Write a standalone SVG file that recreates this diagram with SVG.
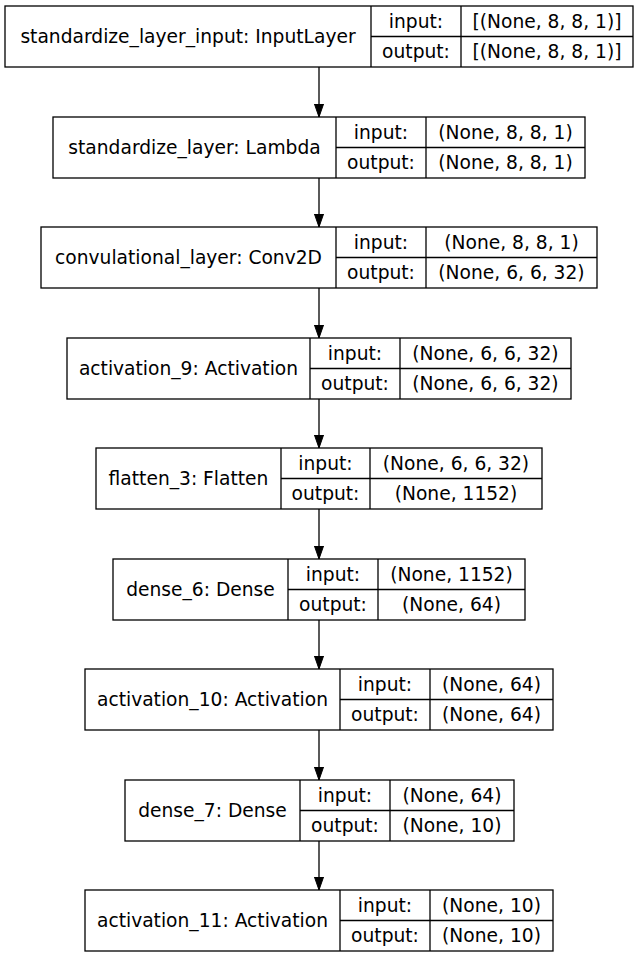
<svg xmlns="http://www.w3.org/2000/svg" width="639" height="959" viewBox="0 0 639 959">
<style>
  .box { fill: #ffffff; stroke: #000000; stroke-width: 1.3; }
  .ln { stroke: #000000; stroke-width: 1.3; fill: none; }
  text { font-family: "DejaVu Sans", "Noto Sans", sans-serif; font-size: 18.67px; fill: #000000; text-anchor: middle; }
  .edge { stroke: #000000; stroke-width: 1.3; fill: none; }
</style>
<defs>
  <marker id="arrow" markerUnits="userSpaceOnUse" markerWidth="14" markerHeight="10" refX="13.3" refY="4.67" orient="auto" viewBox="0 0 14 9.34">
    <path d="M0,0 L13.3,4.67 L0,9.34 Z" fill="#000000" stroke="#000000" stroke-width="1"/>
  </marker>
</defs>
<rect x="0" y="0" width="639" height="959" fill="#ffffff"/>

<g id="connectors">
  <line class="edge" x1="319" y1="67" x2="319" y2="117" marker-end="url(#arrow)"/>
  <line class="edge" x1="319" y1="178" x2="319" y2="227" marker-end="url(#arrow)"/>
  <line class="edge" x1="319" y1="288" x2="319" y2="338" marker-end="url(#arrow)"/>
  <line class="edge" x1="319" y1="399" x2="319" y2="448" marker-end="url(#arrow)"/>
  <line class="edge" x1="319" y1="509" x2="319" y2="559" marker-end="url(#arrow)"/>
  <line class="edge" x1="319" y1="620" x2="319" y2="669" marker-end="url(#arrow)"/>
  <line class="edge" x1="319" y1="730" x2="319" y2="780" marker-end="url(#arrow)"/>
  <line class="edge" x1="319" y1="841" x2="319" y2="890" marker-end="url(#arrow)"/>
</g>

<g id="node1">
  <rect class="box" x="5" y="6" width="628" height="61"/>
  <line class="ln" x1="371" y1="6" x2="371" y2="67"/>
  <line class="ln" x1="461" y1="6" x2="461" y2="67"/>
  <line class="ln" x1="371" y1="36.5" x2="633" y2="36.5"/>
  <text x="188" y="43">standardize_layer_input: InputLayer</text>
  <text x="416" y="27.7">input:</text>
  <text x="416" y="58.2">output:</text>
  <text x="547" y="27.7">[(None, 8, 8, 1)]</text>
  <text x="547" y="58.2">[(None, 8, 8, 1)]</text>
</g>

<g id="node2">
  <rect class="box" x="53" y="117" width="532" height="61"/>
  <line class="ln" x1="336" y1="117" x2="336" y2="178"/>
  <line class="ln" x1="426" y1="117" x2="426" y2="178"/>
  <line class="ln" x1="336" y1="147.5" x2="585" y2="147.5"/>
  <text x="194.5" y="154">standardize_layer: Lambda</text>
  <text x="381" y="138.7">input:</text>
  <text x="381" y="169.2">output:</text>
  <text x="505.5" y="138.7">(None, 8, 8, 1)</text>
  <text x="505.5" y="169.2">(None, 8, 8, 1)</text>
</g>

<g id="node3">
  <rect class="box" x="41" y="227" width="556" height="61"/>
  <line class="ln" x1="336" y1="227" x2="336" y2="288"/>
  <line class="ln" x1="426" y1="227" x2="426" y2="288"/>
  <line class="ln" x1="336" y1="257.5" x2="597" y2="257.5"/>
  <text x="188.5" y="264">convulational_layer: Conv2D</text>
  <text x="381" y="248.7">input:</text>
  <text x="381" y="279.2">output:</text>
  <text x="511.5" y="248.7">(None, 8, 8, 1)</text>
  <text x="511.5" y="279.2">(None, 6, 6, 32)</text>
</g>

<g id="node4">
  <rect class="box" x="67" y="338" width="504" height="61"/>
  <line class="ln" x1="310" y1="338" x2="310" y2="399"/>
  <line class="ln" x1="400" y1="338" x2="400" y2="399"/>
  <line class="ln" x1="310" y1="368.5" x2="571" y2="368.5"/>
  <text x="188.5" y="375">activation_9: Activation</text>
  <text x="355" y="359.7">input:</text>
  <text x="355" y="390.2">output:</text>
  <text x="485.5" y="359.7">(None, 6, 6, 32)</text>
  <text x="485.5" y="390.2">(None, 6, 6, 32)</text>
</g>

<g id="node5">
  <rect class="box" x="96" y="448" width="446" height="61"/>
  <line class="ln" x1="281" y1="448" x2="281" y2="509"/>
  <line class="ln" x1="370" y1="448" x2="370" y2="509"/>
  <line class="ln" x1="281" y1="478.5" x2="542" y2="478.5"/>
  <text x="188.5" y="485">flatten_3: Flatten</text>
  <text x="325.5" y="469.7">input:</text>
  <text x="325.5" y="500.2">output:</text>
  <text x="456" y="469.7">(None, 6, 6, 32)</text>
  <text x="456" y="500.2">(None, 1152)</text>
</g>

<g id="node6">
  <rect class="box" x="113" y="559" width="412" height="61"/>
  <line class="ln" x1="288" y1="559" x2="288" y2="620"/>
  <line class="ln" x1="378" y1="559" x2="378" y2="620"/>
  <line class="ln" x1="288" y1="589.5" x2="525" y2="589.5"/>
  <text x="200.5" y="596">dense_6: Dense</text>
  <text x="333" y="580.7">input:</text>
  <text x="333" y="611.2">output:</text>
  <text x="451.5" y="580.7">(None, 1152)</text>
  <text x="451.5" y="611.2">(None, 64)</text>
</g>

<g id="node7">
  <rect class="box" x="85" y="669" width="468" height="61"/>
  <line class="ln" x1="340" y1="669" x2="340" y2="730"/>
  <line class="ln" x1="430" y1="669" x2="430" y2="730"/>
  <line class="ln" x1="340" y1="699.5" x2="553" y2="699.5"/>
  <text x="212.5" y="706">activation_10: Activation</text>
  <text x="385" y="690.7">input:</text>
  <text x="385" y="721.2">output:</text>
  <text x="491.5" y="690.7">(None, 64)</text>
  <text x="491.5" y="721.2">(None, 64)</text>
</g>

<g id="node8">
  <rect class="box" x="125" y="780" width="389" height="61"/>
  <line class="ln" x1="300" y1="780" x2="300" y2="841"/>
  <line class="ln" x1="390" y1="780" x2="390" y2="841"/>
  <line class="ln" x1="300" y1="810.5" x2="514" y2="810.5"/>
  <text x="212.5" y="817">dense_7: Dense</text>
  <text x="345" y="801.7">input:</text>
  <text x="345" y="832.2">output:</text>
  <text x="452" y="801.7">(None, 64)</text>
  <text x="452" y="832.2">(None, 10)</text>
</g>

<g id="node9">
  <rect class="box" x="85" y="890" width="468" height="61"/>
  <line class="ln" x1="340" y1="890" x2="340" y2="951"/>
  <line class="ln" x1="430" y1="890" x2="430" y2="951"/>
  <line class="ln" x1="340" y1="920.5" x2="553" y2="920.5"/>
  <text x="212.5" y="927">activation_11: Activation</text>
  <text x="385" y="911.7">input:</text>
  <text x="385" y="942.2">output:</text>
  <text x="491.5" y="911.7">(None, 10)</text>
  <text x="491.5" y="942.2">(None, 10)</text>
</g>
</svg>
